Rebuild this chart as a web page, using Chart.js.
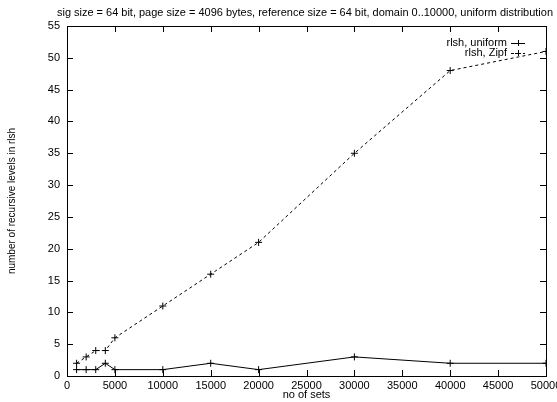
<!DOCTYPE html>
<html>
<head>
<meta charset="utf-8">
<script src="https://cdn.jsdelivr.net/npm/chart.js@4/dist/chart.umd.min.js"></script>
<style>
  html, body { margin: 0; padding: 0; background: #fff; }
  #wrap { width: 557px; height: 402px; }
</style>
</head>
<body>
<div id="wrap"><canvas id="c" width="557" height="402"></canvas></div>
<script>
// number of sets on the x axis
const noOfSets = [1000, 2000, 3000, 4000, 5000, 10000, 15000, 20000, 30000, 40000, 50000];
// recursive levels per distribution
const uniformLevels = [1, 1, 1, 2, 1, 1, 2, 1, 3, 2, 2];
const zipfLevels = [2, 3, 4, 4, 6, 11, 16, 21, 35, 48, 51];
// series names
const seriesNames = ['rlsh, uniform', 'rlsh, Zipf'];
// tick settings
const xTickStep = 5000, xMax = 50000;
const yTickStep = 5, yMax = 55;

const FONT = 'Liberation Sans, Arial, Helvetica, sans-serif';
const titleText = 'sig size = 64 bit, page size = 4096 bytes, reference size = 64 bit, domain 0..10000, uniform distribution';

const toPoints = (xs, ys) => xs.map((x, i) => ({ x: x, y: ys[i] }));

// gnuplot-style frame: box border, inward ticks on all four sides, key, title
const framePlugin = {
  id: 'frame',
  afterDraw(chart) {
    const ctx = chart.ctx;
    const a = chart.chartArea;
    const xs = chart.scales.x, ys = chart.scales.y;
    ctx.save();
    ctx.strokeStyle = '#000';
    ctx.lineWidth = 1;
    ctx.setLineDash([]);
    ctx.strokeRect(Math.round(a.left) + 0.5, Math.round(a.top) + 0.5,
                   Math.round(a.right - a.left), Math.round(a.bottom - a.top));
    const tl = 6;
    ctx.beginPath();
    xs.ticks.forEach(t => {
      const px = Math.round(xs.getPixelForValue(t.value)) + 0.5;
      ctx.moveTo(px, a.bottom); ctx.lineTo(px, a.bottom - tl);
      ctx.moveTo(px, a.top); ctx.lineTo(px, a.top + tl);
    });
    ys.ticks.forEach(t => {
      const py = Math.round(ys.getPixelForValue(t.value)) + 0.5;
      ctx.moveTo(a.left, py); ctx.lineTo(a.left + tl, py);
      ctx.moveTo(a.right, py); ctx.lineTo(a.right - tl, py);
    });
    ctx.stroke();

    // title, fitted to the span it occupies above the plot
    ctx.fillStyle = '#000';
    ctx.font = '11px ' + FONT;
    const w = ctx.measureText(titleText).width;
    const target = 496;
    const size = Math.min(11, 11 * target / w);
    ctx.font = size.toFixed(2) + 'px ' + FONT;
    ctx.textAlign = 'center';
    ctx.textBaseline = 'middle';
    ctx.fillText(titleText, 305, 13);

    // key
    ctx.font = '11px ' + FONT;
    const keyTextRight = 507;
    const sampleL = 511, sampleR = 525;
    const rows = [43, 53];
    chart.data.datasets.forEach((ds, i) => {
      const y = rows[i];
      ctx.fillStyle = '#000';
      ctx.textAlign = 'right';
      ctx.textBaseline = 'middle';
      ctx.fillText(ds.label, keyTextRight, y);
      ctx.beginPath();
      ctx.setLineDash(ds.borderDash || []);
      ctx.moveTo(sampleL, y + 0.5); ctx.lineTo(sampleR, y + 0.5);
      ctx.stroke();
      ctx.setLineDash([]);
      const cx = (sampleL + sampleR) / 2;
      ctx.beginPath();
      ctx.moveTo(cx - 3, y + 0.5); ctx.lineTo(cx + 3, y + 0.5);
      ctx.moveTo(cx + 0.5, y - 3); ctx.lineTo(cx + 0.5, y + 3);
      ctx.stroke();
    });
    ctx.restore();
  }
};

new Chart(document.getElementById('c'), {
  type: 'line',
  data: {
    datasets: [
      {
        label: seriesNames[0],
        data: toPoints(noOfSets, uniformLevels),
        borderColor: '#000',
        backgroundColor: '#000',
        borderWidth: 1,
        pointStyle: 'cross',
        pointRadius: 3.5,
        pointBorderWidth: 1,
        pointBorderColor: '#000',
        tension: 0,
        fill: false
      },
      {
        label: seriesNames[1],
        data: toPoints(noOfSets, zipfLevels),
        borderColor: '#000',
        backgroundColor: '#000',
        borderWidth: 1,
        borderDash: [3, 3],
        pointStyle: 'cross',
        pointRadius: 3.5,
        pointBorderWidth: 1,
        pointBorderColor: '#000',
        tension: 0,
        fill: false
      }
    ]
  },
  options: {
    responsive: false,
    animation: false,
    events: [],
    layout: { padding: { top: 26, right: 11, left: 0, bottom: 0 } },
    plugins: {
      legend: { display: false },
      tooltip: { enabled: false },
      title: { display: false }
    },
    scales: {
      x: {
        type: 'linear',
        min: 0, max: xMax,
        grid: { display: false, drawTicks: false },
        border: { display: false },
        ticks: {
          stepSize: xTickStep,
          color: '#000',
          font: { family: FONT, size: 11 },
          padding: 3,
          maxRotation: 0,
          autoSkip: false,
          callback: v => String(v)
        },
        title: {
          display: true,
          text: 'no of sets',
          color: '#000',
          font: { family: FONT, size: 11 },
          padding: { top: 1, bottom: 0 }
        },
        afterFit(s) { s.height = 26; s.paddingLeft = 0; s.paddingRight = 0; }
      },
      y: {
        type: 'linear',
        min: 0, max: yMax,
        grid: { display: false, drawTicks: false },
        border: { display: false },
        ticks: {
          stepSize: yTickStep,
          color: '#000',
          font: { family: FONT, size: 11 },
          padding: 7,
          callback: v => String(v)
        },
        title: {
          display: true,
          text: 'number of recursive levels in rlsh',
          color: '#000',
          font: { family: FONT, size: 10 },
          padding: { top: 6, bottom: 8 }
        },
        afterFit(s) { s.width = 67; s.paddingTop = 0; s.paddingBottom = 0; }
      }
    }
  },
  plugins: [framePlugin]
});
</script>
</body>
</html>
